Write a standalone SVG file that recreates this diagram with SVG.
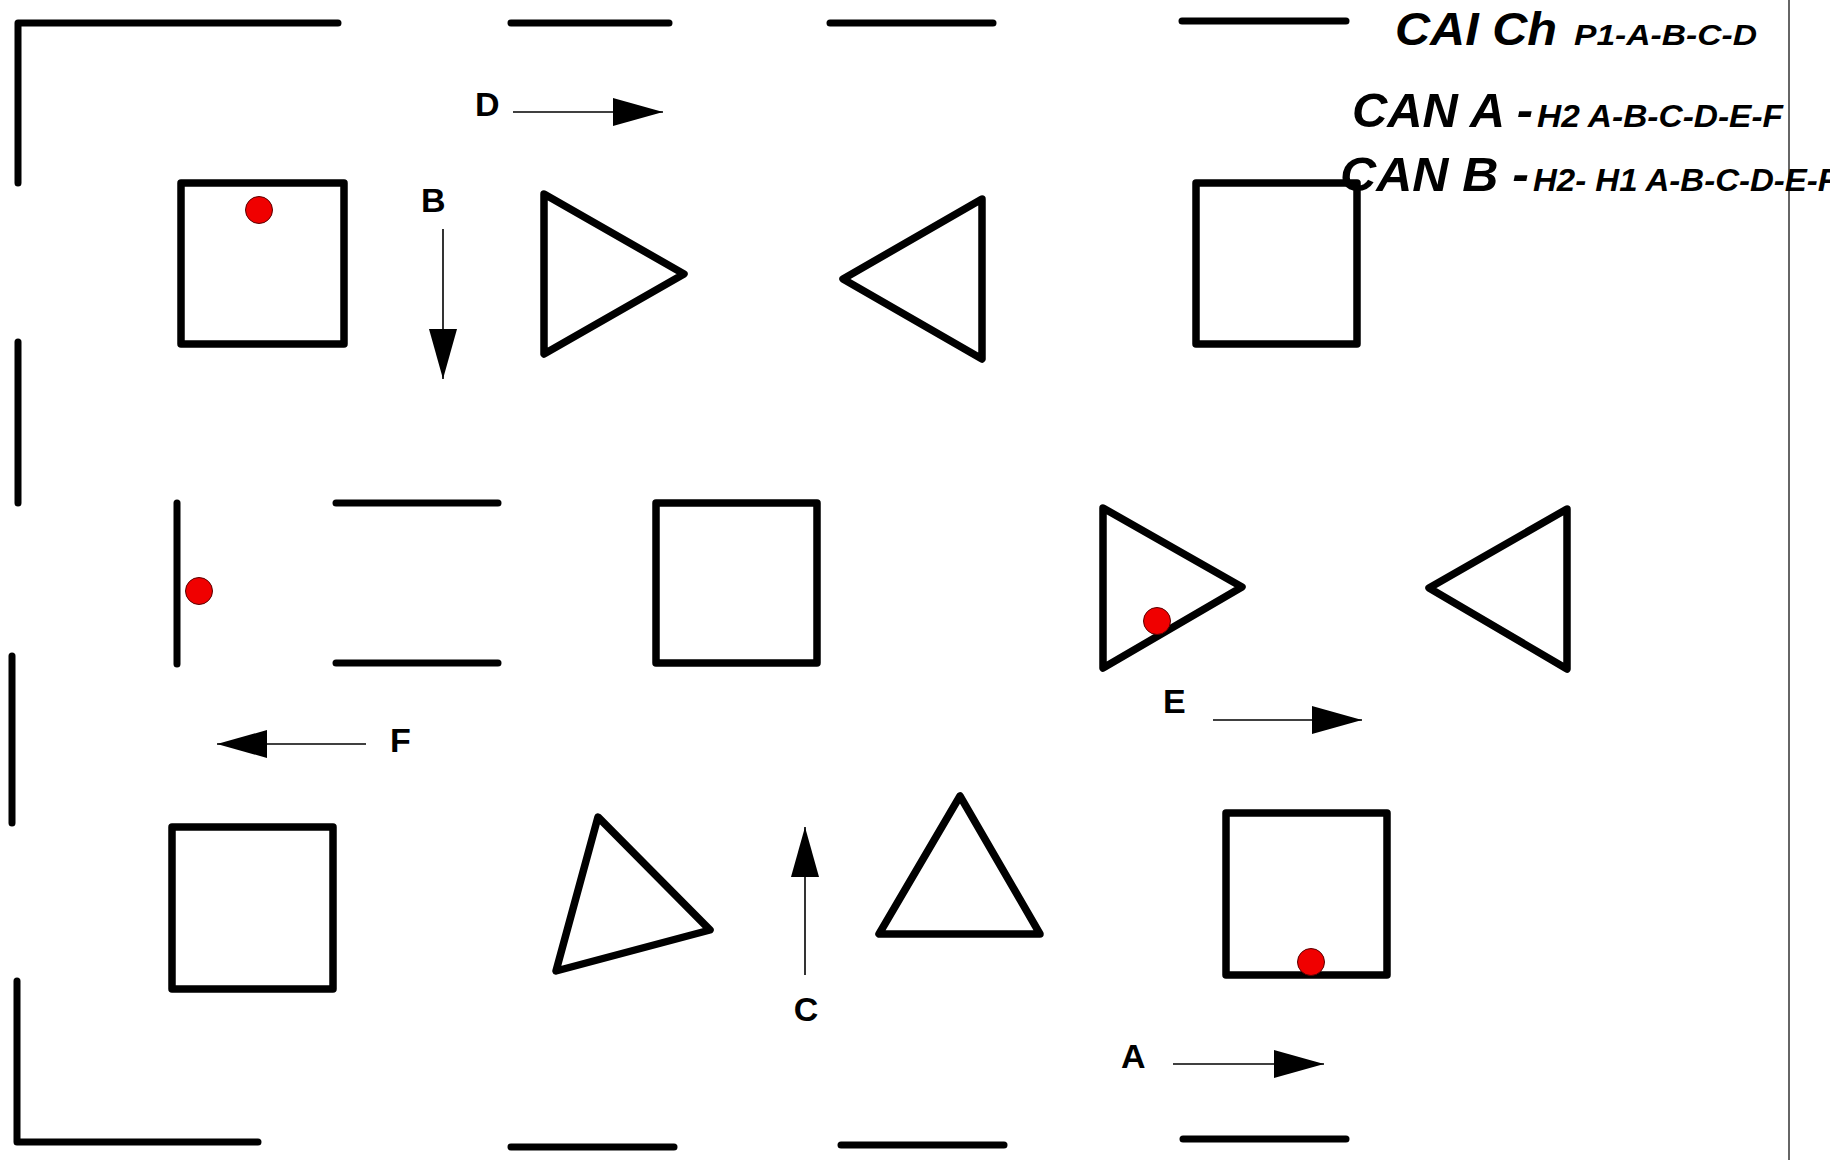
<svg xmlns="http://www.w3.org/2000/svg" width="1830" height="1160" viewBox="0 0 1830 1160">
<style>
.w{fill:none;stroke:#000;stroke-width:7;stroke-linecap:round;stroke-linejoin:round}
.s{fill:none;stroke:#000;stroke-width:7.5;stroke-linejoin:round;stroke-linecap:round}
.dot{fill:#f00000;stroke:#5a0000;stroke-width:1}
.ar{fill:none;stroke:#000;stroke-width:1.6}
.lb{font-family:"Liberation Sans",Arial,sans-serif;font-weight:bold;font-size:34px;fill:#000}
.big{font-family:"Liberation Sans",Arial,sans-serif;font-weight:bold;font-style:italic;fill:#000}
</style>
<defs>
<marker id="ah" markerUnits="userSpaceOnUse" markerWidth="50" markerHeight="28" refX="50" refY="14" orient="auto" viewBox="0 0 50 28">
<path d="M0,0 L50,14 L0,28 z" fill="#000"/>
</marker>
</defs>
<rect width="1830" height="1160" fill="#fff"/>
<g id="walls">
<path class="w" d="M18,183 V23 H338"/>
<line class="w" x1="511" y1="23" x2="669" y2="23"/>
<line class="w" x1="830" y1="23" x2="993" y2="23"/>
<line class="w" x1="1182" y1="21" x2="1346" y2="21"/>
<line class="w" x1="18" y1="342" x2="18" y2="503"/>
<line class="w" x1="12" y1="656" x2="12" y2="823"/>
<path class="w" d="M17,981 V1142 H258"/>
<line class="w" x1="511" y1="1147" x2="674" y2="1147"/>
<line class="w" x1="841" y1="1145" x2="1004" y2="1145"/>
<line class="w" x1="1183" y1="1139" x2="1346" y2="1139"/>
</g>
<line id="border" x1="1789" y1="0" x2="1789" y2="1160" stroke="#666" stroke-width="2"/>
<g id="square1"><rect class="s" x="181" y="183" width="163" height="161"/><circle class="dot" cx="259" cy="210" r="13.5"/></g>
<g id="triangle1"><polygon class="s" points="544,194 684,274 544,354"/></g>
<g id="triangle2"><polygon class="s" points="982,199 843,279 982,359"/></g>
<g id="square2"><rect class="s" x="1196" y="183" width="161" height="161"/></g>
<g id="bar1"><line class="w" x1="177" y1="503" x2="177" y2="664"/><circle class="dot" cx="199" cy="591" r="13.5"/></g>
<g id="bar2"><line class="w" x1="336" y1="503" x2="498" y2="503"/><line class="w" x1="336" y1="663" x2="498" y2="663"/></g>
<g id="square3"><rect class="s" x="656" y="503" width="161" height="160"/></g>
<g id="triangle3"><polygon class="s" points="1103,508 1242,587 1103,668"/><circle class="dot" cx="1157" cy="621" r="13.5"/></g>
<g id="triangle4"><polygon class="s" points="1567,509 1429,588 1567,669"/></g>
<g id="square4"><rect class="s" x="172" y="827" width="161" height="162"/></g>
<g id="triangle5"><polygon class="s" points="598,817 710,930 556,971"/></g>
<g id="triangle6"><polygon class="s" points="960,796 879,934 1040,934"/></g>
<g id="square5"><rect class="s" x="1226" y="813" width="161" height="162"/><circle class="dot" cx="1311" cy="962" r="13.5"/></g>
<g id="connectors">
<line class="ar" x1="513" y1="112" x2="663" y2="112" marker-end="url(#ah)"/>
<line class="ar" x1="443" y1="229" x2="443" y2="379" marker-end="url(#ah)"/>
<line class="ar" x1="366" y1="744" x2="217" y2="744" marker-end="url(#ah)"/>
<line class="ar" x1="1213" y1="720" x2="1362" y2="720" marker-end="url(#ah)"/>
<line class="ar" x1="805" y1="975" x2="805" y2="827" marker-end="url(#ah)"/>
<line class="ar" x1="1173" y1="1064" x2="1324" y2="1064" marker-end="url(#ah)"/>
</g>
<g id="labels">
<text class="lb" x="475" y="116">D</text>
<text class="lb" x="421" y="212">B</text>
<text class="lb" x="390" y="752">F</text>
<text class="lb" x="1163" y="713">E</text>
<text class="lb" x="806" y="1021" text-anchor="middle">C</text>
<text class="lb" x="1121" y="1068">A</text>
</g>
<g id="legend">
<text class="big" x="1395" y="45" font-size="46" textLength="162" lengthAdjust="spacingAndGlyphs">CAI Ch</text>
<text class="big" x="1574" y="45" font-size="29" textLength="183" lengthAdjust="spacingAndGlyphs">P1-A-B-C-D</text>
<text class="big" x="1352" y="127" font-size="48" textLength="181" lengthAdjust="spacingAndGlyphs">CAN A -</text>
<text class="big" x="1537" y="127" font-size="31" textLength="246" lengthAdjust="spacingAndGlyphs">H2 A-B-C-D-E-F</text>
<text class="big" x="1340" y="191" font-size="48" textLength="189" lengthAdjust="spacingAndGlyphs">CAN B -</text>
<text class="big" x="1533" y="191" font-size="31" textLength="305" lengthAdjust="spacingAndGlyphs">H2- H1 A-B-C-D-E-F</text>
</g>
</svg>
